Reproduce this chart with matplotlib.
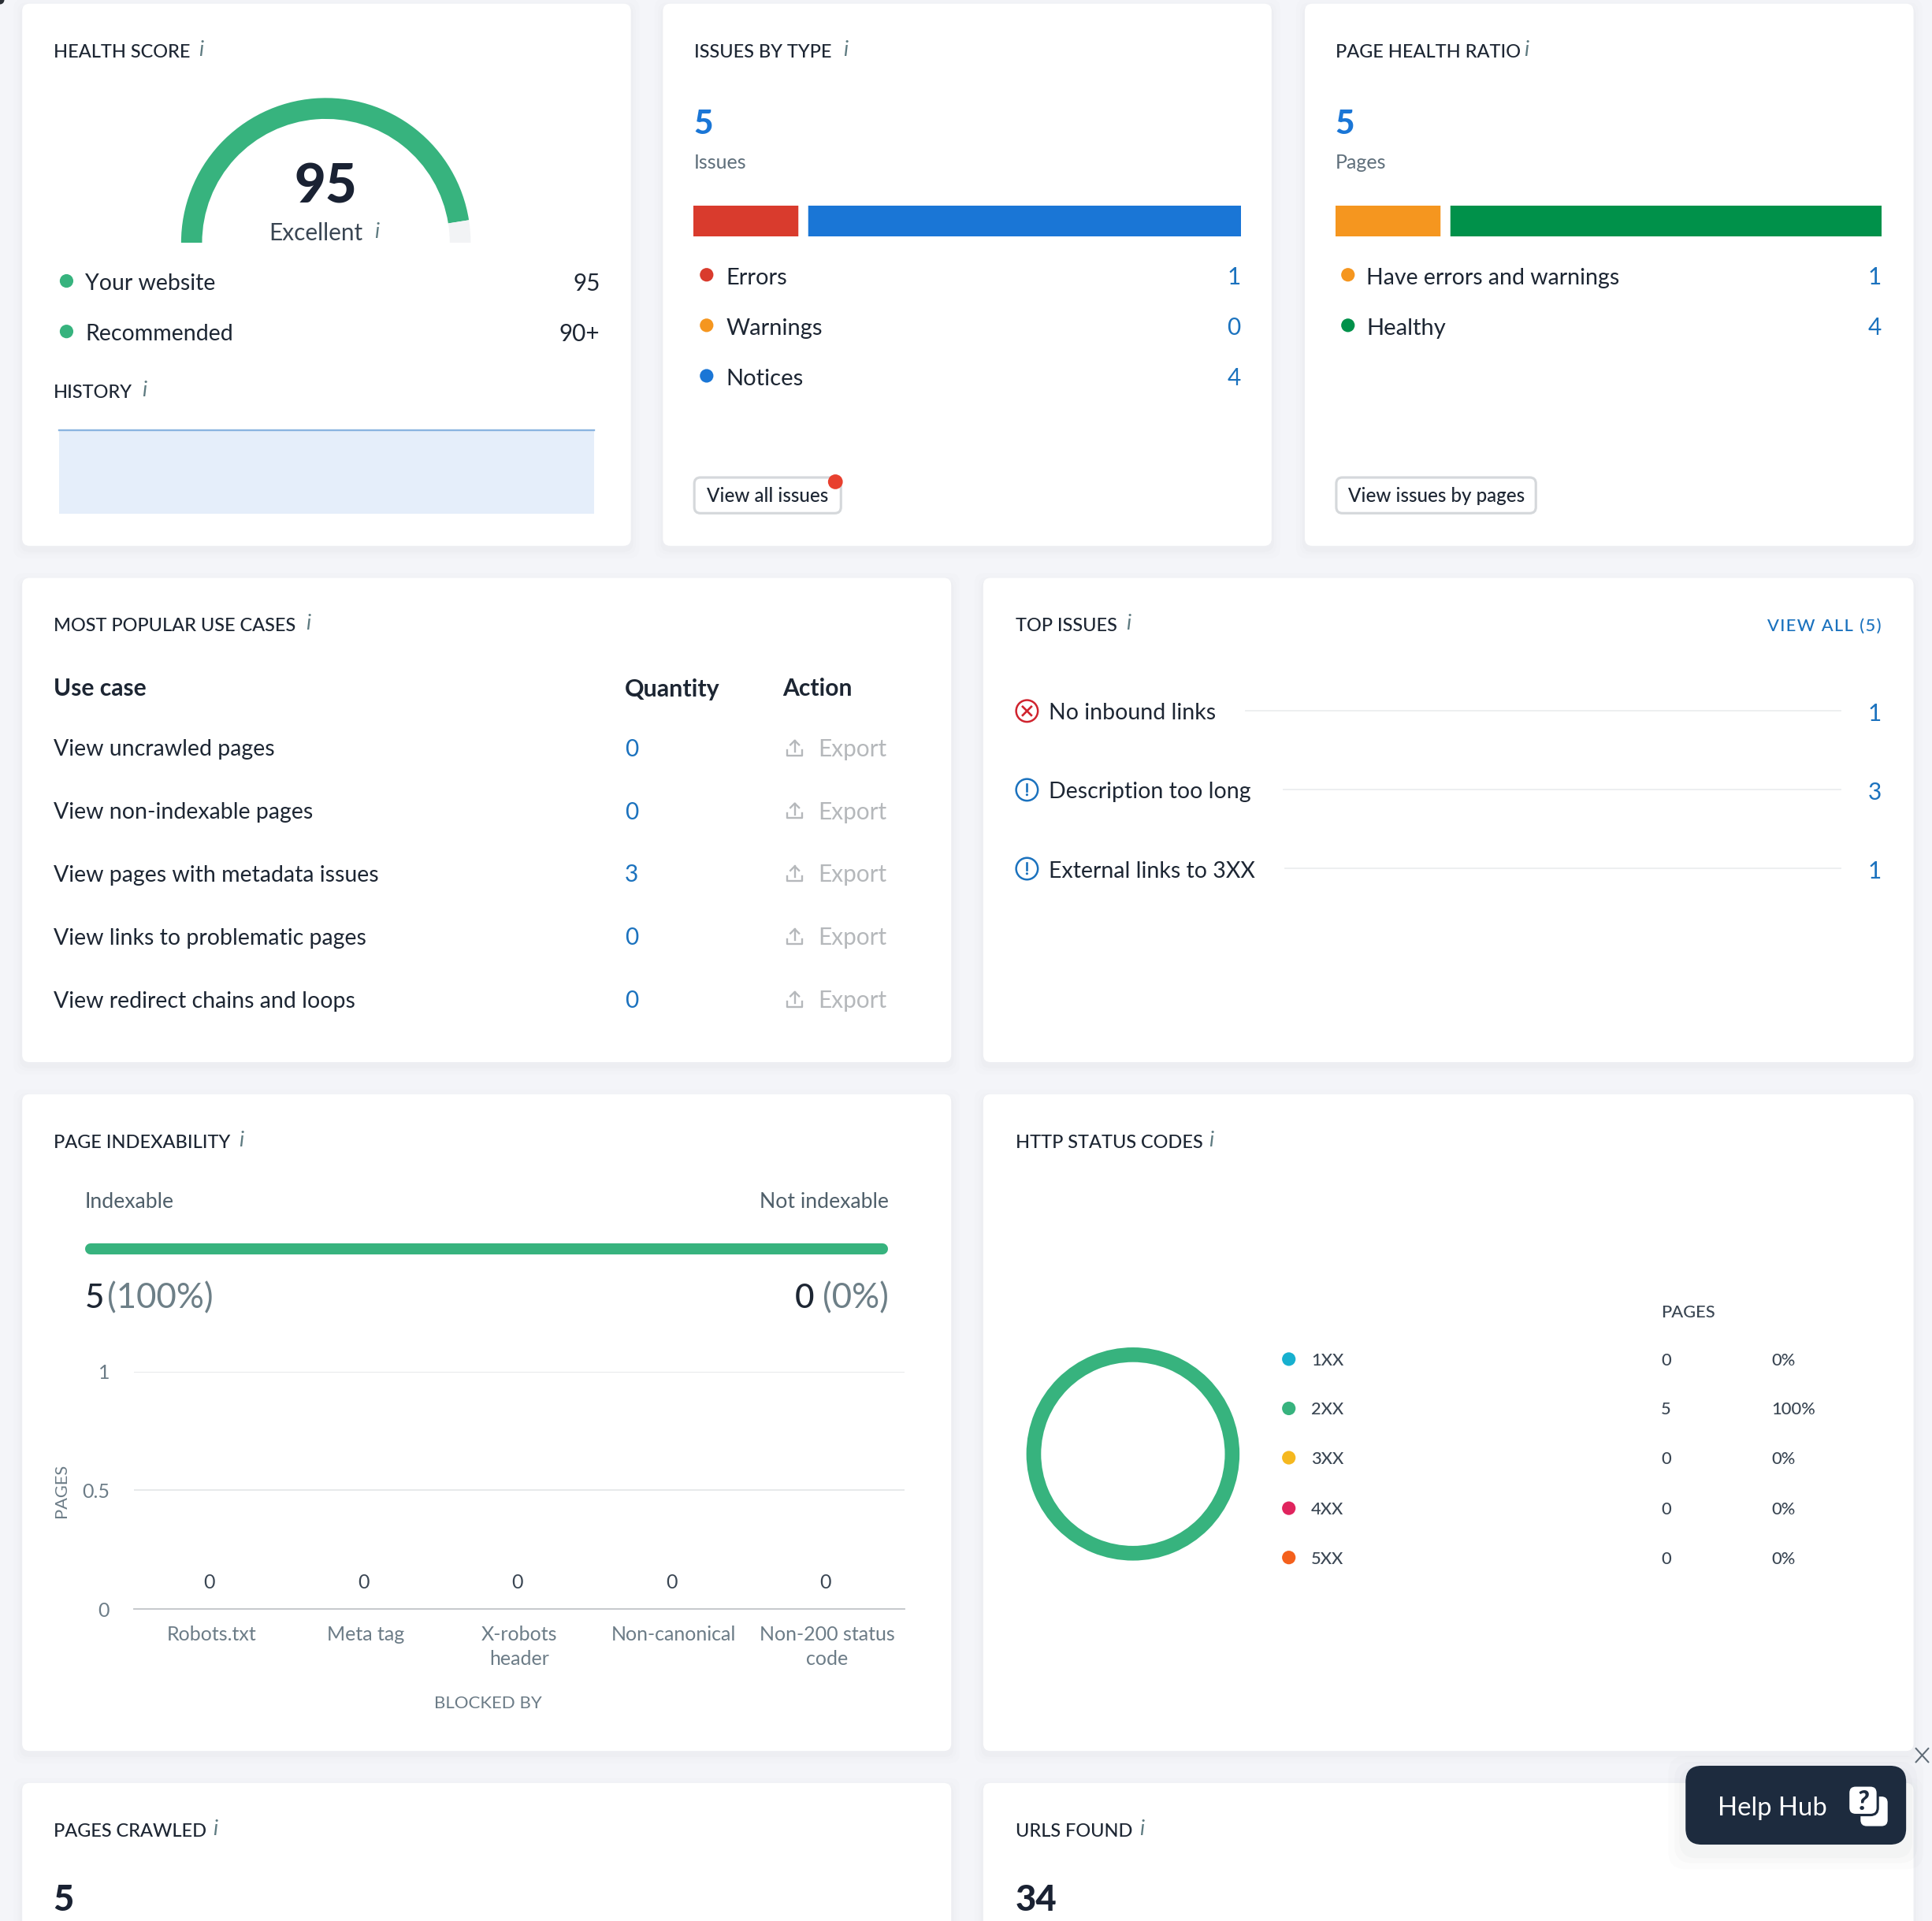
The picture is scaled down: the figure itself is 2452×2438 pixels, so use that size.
import matplotlib
matplotlib.use("Agg")
from matplotlib import pyplot as plt
from matplotlib.patches import FancyBboxPatch, Circle

plt.rcParams['font.family'] = ['Lato', 'DejaVu Sans']

# data
gauge_values = [95, 5]
health_rows = [("Your website", "95"), ("Recommended", "90+")]
history_x = [0, 1]
history_values = [95, 95]

issue_labels = ["Errors", "Warnings", "Notices"]
issue_values = [1, 0, 4]
issue_colors = ["#d93b2d", "#f5961f", "#1a76d6"]

page_labels = ["Have errors and warnings", "Healthy"]
page_values = [1, 4]
page_colors = ["#f5961f", "#00914a"]

use_cases = ["View uncrawled pages", "View non-indexable pages", "View pages with metadata issues",
             "View links to problematic pages", "View redirect chains and loops"]
use_case_counts = [0, 0, 3, 0, 0]

top_issues = ["No inbound links", "Description too long", "External links to 3XX"]
top_issue_counts = [1, 3, 1]
top_issue_kinds = ["error", "notice", "notice"]

indexable_values = [5, 0]
blocked_labels = ["Robots.txt", "Meta tag", "X-robots\nheader", "Non-canonical", "Non-200 status\ncode"]
blocked_values = [0, 0, 0, 0, 0]

status_labels = ["1XX", "2XX", "3XX", "4XX", "5XX"]
status_pages = [0, 5, 0, 0, 0]
status_pct = ["0%", "100%", "0%", "0%", "0%"]
status_colors = ["#17b0cf", "#37b37e", "#f5b81f", "#e0245e", "#f4601c"]

W, H = 1568, 1559  # layout is measured on the 1568 wide view
SCALE = 2452 / 1568 * 0.72  # view pixels to points at dpi 100

GREEN = "#37b37e"
DARK = "#1d2633"
BLUE = "#1b72be"
GREY = "#5f6f7b"

fig = plt.figure(figsize=(24.52, 24.38), dpi=100, facecolor="#f4f5f9")
canvas = fig.add_axes([0, 0, 1, 1])
canvas.set_xlim(0, W)
canvas.set_ylim(H, 0)
canvas.axis("off")


def pt(px):
    return px * SCALE


def label(x, y, s, size=18.2, color=DARK, ha="left", weight="normal", **kw):
    # y is the middle of the capitals
    return canvas.text(x, y + 0.36 * size, s, fontsize=pt(size), color=color, ha=ha, va="baseline",
                       fontweight=weight, **kw)


def box(x0, y0, x1, y1, radius=6, **kw):
    p = FancyBboxPatch((x0, y0), x1 - x0, y1 - y0, boxstyle=f"round,pad=0,rounding_size={radius}", **kw)
    canvas.add_patch(p)
    return p


def card(x0, y0, x1, y1):
    for grow, alpha in [(7, 0.006), (4, 0.008), (2, 0.01)]:
        box(x0 - grow, y0 - grow + 3, x1 + grow, y1 + grow + 3, radius=8, fc="#20303c", ec="none", alpha=alpha)
    box(x0, y0, x1, y1, fc="white", ec="none")


def title(x, y, s, i_x):
    label(x + 0.5, y, s, size=15, color=DARK, weight="medium")
    label(i_x, y - 2, "i", size=17, color="#5d7a80", style="italic")


def dot(x, y, color, r=5.5):
    canvas.add_patch(Circle((x, y), r, fc=color, ec="none"))


def chart_axes(x0, y0, x1, y1):
    ax = fig.add_axes([x0 / W, 1 - y1 / H, (x1 - x0) / W, (y1 - y0) / H])
    ax.patch.set_alpha(0)
    return ax


def stacked_bar(x0, y0, x1, y1, values, colors):
    ax = chart_axes(x0, y0, x1, y1)
    left = 0
    for v, c in zip(values, colors):
        if v:
            ax.barh(0, v, left=left, height=1, color=c)
            left += v
            if left < sum(values):
                ax.axvline(left, color="white", lw=pt(8))
    ax.set_xlim(0, sum(values))
    ax.set_ylim(-0.5, 0.5)
    ax.axis("off")


def button(x0, x1, s):
    box(x0, 387.5, x1, 416.5, radius=5, fc="white", ec="#d5d8db", lw=pt(2))
    label((x0 + x1) / 2, 402, s, size=15.4, ha="center", weight="medium")


def export_icon(x, y):
    c = "#b5b8bb"
    canvas.plot([x - 6, x - 6, x + 6, x + 6], [y + 2, y + 6, y + 6, y + 2], color=c, lw=pt(1.5))
    canvas.plot([x, x], [y - 6, y + 3], color=c, lw=pt(1.5))
    canvas.plot([x - 3.5, x, x + 3.5], [y - 2.5, y - 6, y - 2.5], color=c, lw=pt(1.5))


canvas.add_patch(Circle((0, 0), 3.5, fc="#2a2f36", ec="none"))
for rect in [(18, 3, 512, 443), (538, 3, 1032, 443), (1059, 3, 1553, 443),
             (18, 469, 772, 862), (798, 469, 1553, 862),
             (18, 888, 772, 1421), (798, 888, 1553, 1421),
             (18, 1447, 772, 1575), (798, 1447, 1553, 1575)]:
    card(*rect)

# health score card
title(43, 41, "HEALTH SCORE", 161)
gauge = chart_axes(264.5 - 117.5, 197 - 117.5, 264.5 + 117.5, 197 + 117.5)
gauge.pie(gauge_values + [sum(gauge_values)], colors=[GREEN, "#f2f3f5", "none"], startangle=180,
          counterclock=False, radius=1, wedgeprops={"width": 17 / 117.5, "linewidth": 0})
gauge.set_xlim(-1, 1)
gauge.set_ylim(-1, 1)
label(264.5, 149, str(gauge_values[0]), size=44, color="#1a2233", ha="center", weight="black")
label(256, 188, "Excellent", size=19, color="#3a4653", ha="center")
label(303.5, 187, "i", size=17, color="#5d7a80", style="italic")
for (name, val), y in zip(health_rows, [228, 269]):
    dot(54, y, GREEN)
    label(69, y + 1, name)
    label(487, y + 1, val, size=19, ha="right")
title(43, 317.5, "HISTORY", 115)
hist = chart_axes(48, 349, 482, 417)
hist.fill_between(history_x, history_values, color="#e5eefa", lw=0)
hist.plot(history_x, history_values, color="#8ab4e0", lw=pt(1.5), clip_on=False)
hist.set_xlim(history_x[0], history_x[-1])
hist.set_ylim(0, max(history_values))
hist.axis("off")

# issues by type card
title(563, 41, "ISSUES BY TYPE", 684)
label(563, 99, str(sum(issue_values)), size=27, color="#1a76d6", weight="black")
label(563, 131, "Issues", size=16, color=GREY)
stacked_bar(563, 167, 1007, 192, issue_values, issue_colors)
for name, val, c, y in zip(issue_labels, issue_values, issue_colors, [224, 265, 306]):
    dot(573.5, y - 1, c)
    label(589, y, name, size=18.6)
    label(1007, y, str(val), size=19, color=BLUE, ha="right")
button(563.5, 682.5, "View all issues")
dot(678, 391, "#e8402f", r=6)

# page health card
title(1083.5, 41, "PAGE HEALTH RATIO", 1237)
label(1083.5, 99, str(sum(page_values)), size=27, color="#1a76d6", weight="black")
label(1084, 131, "Pages", size=16, color=GREY)
stacked_bar(1084, 167, 1527, 192, page_values, page_colors)
for name, val, c, y, size in zip(page_labels, page_values, page_colors, [224, 265], [18.2, 18.6]):
    dot(1094, y - 1, c)
    label(1109, y, name, size=size)
    label(1527, y, str(val), size=19, color=BLUE, ha="right")
button(1084.5, 1246.5, "View issues by pages")

# use cases table
title(43, 507, "MOST POPULAR USE CASES", 248)
label(43.5, 558, "Use case", size=19.2, weight="bold")
label(507, 558, "Quantity", size=19.4, weight="bold")
label(635, 558, "Action", size=19.2, weight="bold")
for name, val, y in zip(use_cases, use_case_counts, [607, 658, 709, 760, 811]):
    label(43.5, y, name)
    label(507, y, str(val), size=19, color=BLUE)
    export_icon(645, y)
    label(664, y, "Export", size=19, color="#b5b8bb")

# top issues
title(824, 507, "TOP ISSUES", 914)
label(1527, 507, "\u200a".join("VIEW ALL (5)"), size=14, color=BLUE, ha="right", weight="medium")
for name, val, kind, y, line_x in zip(top_issues, top_issue_counts, top_issue_kinds, [577, 641, 705],
                                      [1011, 1042, 1043]):
    c = "#d0232e" if kind == "error" else "#1b72be"
    canvas.add_patch(Circle((833.5, y), 8.8, fc="white", ec=c, lw=pt(1.6)))
    if kind == "error":
        canvas.plot([830, 837], [y - 3.5, y + 3.5], color=c, lw=pt(1.7))
        canvas.plot([830, 837], [y + 3.5, y - 3.5], color=c, lw=pt(1.7))
    else:
        canvas.plot([833.5, 833.5], [y - 4.5, y + 1], color=c, lw=pt(1.7))
        dot(833.5, y + 4, c, r=1)
    label(851, y + 0.5, name)
    canvas.plot([line_x, 1494], [y, y], color="#eceef0", lw=pt(1.2))
    label(1527, y + 1, str(val), size=19, color=BLUE, ha="right")

# page indexability
title(43, 926, "PAGE INDEXABILITY", 194)
label(69, 974, "Indexable", size=17, color="#4f5f6a")
label(721, 974, "Not indexable", size=17, color="#4f5f6a", ha="right")
total = sum(indexable_values)
cap = 4.5 / 643 * total
index_ax = chart_axes(69, 1004, 721, 1023)
index_ax.plot([0, indexable_values[0]], [0, 0], color=GREEN, lw=pt(9), solid_capstyle="round")
index_ax.set_xlim(-cap, total + cap)
index_ax.set_ylim(-1, 1)
index_ax.axis("off")
label(69, 1051.5, str(indexable_values[0]), size=27, weight="medium")
label(87, 1051.5, f"({indexable_values[0] * 100 // total}%)", size=28, color="#6d7f87")
label(721, 1051.5, f"({indexable_values[1] * 100 // total}%)", size=28, color="#6d7f87", ha="right")
label(661, 1051.5, str(indexable_values[1]), size=27, ha="right", weight="medium")

bars = chart_axes(109, 1113, 734, 1306)
bars.bar(range(len(blocked_values)), blocked_values, color=GREEN)
bars.set_xlim(-0.5, len(blocked_values) - 0.5)
bars.set_ylim(0, 1)
bars.set_yticks([0, 0.5, 1], ["0", "0.5", "1"])
bars.set_xticks(range(len(blocked_labels)), blocked_labels, linespacing=1.45)
bars.tick_params(axis="both", length=0, labelsize=pt(16), labelcolor="#6c7c87")
bars.tick_params(axis="y", pad=pt(20))
bars.tick_params(axis="x", pad=pt(13))
bars.grid(axis="y", color="#e6e8ea", lw=pt(1.2))
bars.set_axisbelow(True)
for side in ["top", "right", "left"]:
    bars.spines[side].set_visible(False)
bars.spines["bottom"].set_color("#c4c7cb")
bars.spines["bottom"].set_linewidth(pt(1.2))
for i, v in enumerate(blocked_values):
    bars.annotate(str(v), (i, v), xytext=(pt(-1.5), pt(21.5)), textcoords="offset points", ha="center", va="center",
                  fontsize=pt(16), color="#3a4653")
canvas.text(54, 1210, "PAGES", fontsize=pt(14), color="#6c7c87", ha="center", va="baseline", rotation=90,
            rotation_mode="anchor")
label(396, 1381, "BLOCKED BY", size=14.2, color="#6c7c87", ha="center")

# http status donut
title(824, 926, "HTTP STATUS CODES", 981)
donut = chart_axes(919.5 - 86.5, 1180 - 86.5, 919.5 + 86.5, 1180 + 86.5)
donut.pie(status_pages, colors=status_colors, startangle=90, radius=1,
          wedgeprops={"width": 12 / 87, "linewidth": 0})
donut.set_xlim(-1, 1)
donut.set_ylim(-1, 1)
label(1348, 1064, "PAGES", size=14, color="#3a4653", weight="medium")
for name, val, pct, c, y in zip(status_labels, status_pages, status_pct, status_colors,
                                [1103, 1143, 1183, 1224, 1264]):
    dot(1046, y, c)
    label(1064, y, name, size=14, color="#3a4653", weight="medium")
    label(1348, y, str(val), size=14, color="#3a4653", weight="medium")
    label(1438, y, pct, size=14, color="#3a4653", weight="medium")

# bottom row, cut by the page edge
title(43, 1485, "PAGES CRAWLED", 173)
label(43, 1540, "5", size=29, color="#1a2233", weight="black")
title(824, 1485, "URLS FOUND", 925)
label(824, 1540, "34", size=29, color="#1a2233", weight="black")

# help widget
for grow, alpha in [(14, 0.012), (9, 0.016), (5, 0.02)]:
    box(1368 - grow, 1433 - grow + 6, 1547 + grow, 1497 + grow + 6, radius=14, fc="#20303c", ec="none", alpha=alpha)
box(1368, 1433, 1547, 1497, radius=13, fc="#1d2b3e", ec="none")
label(1394, 1466, "Help Hub", size=21, color="white")
box(1510, 1458, 1532, 1482, radius=5, fc="white", ec="none")
box(1500, 1449, 1524, 1473, radius=6, fc="white", ec="#1d2b3e", lw=pt(2))
label(1512, 1461, "?", size=22, color="#1d2b3e", ha="center", weight="black", style="italic")
canvas.plot([1555, 1565], [1419, 1430], color="#5f6b76", lw=pt(1.3))
canvas.plot([1555, 1565], [1430, 1419], color="#5f6b76", lw=pt(1.3))

fig.savefig("out.png", dpi=100, facecolor=fig.get_facecolor())
